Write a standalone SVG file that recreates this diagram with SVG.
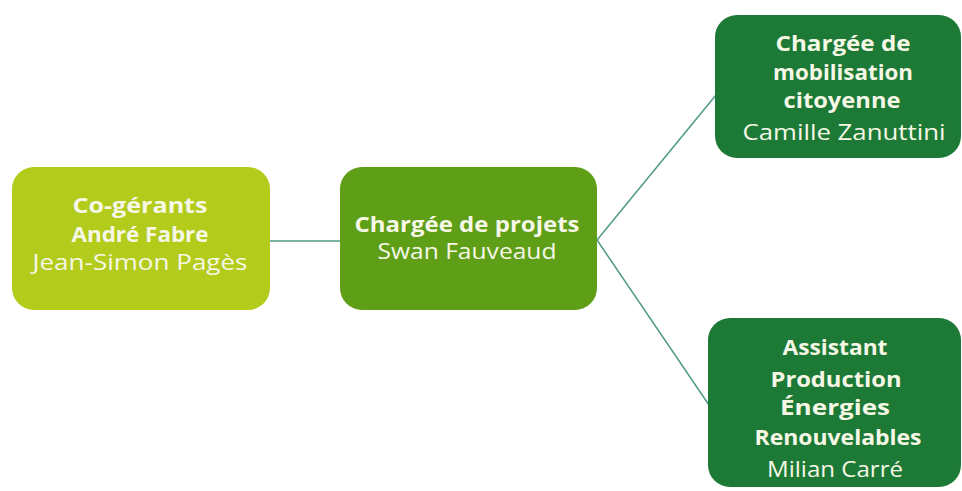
<svg xmlns="http://www.w3.org/2000/svg" width="962" height="491" viewBox="0 0 962 491">
<style>
.t{font-family:"Open Sans","Liberation Sans",sans-serif;font-size:21px;fill:#f6f7e6;text-anchor:middle}
.b{font-weight:bold}
.c{stroke:#4f9a86;stroke-width:1.5;fill:none}
</style>
<rect width="962" height="491" fill="#ffffff"/>
<g id="connectors">
<line class="c" x1="270" y1="241" x2="340" y2="241"/>
<line class="c" x1="597" y1="240" x2="716" y2="95"/>
<line class="c" x1="597" y1="240" x2="709" y2="405"/>
</g>
<g id="n1">
<rect x="12" y="167" width="258" height="143" rx="22" fill="#b3cb1b"/>
<text class="t b" x="140" y="213" textLength="135" lengthAdjust="spacingAndGlyphs">Co-gérants</text>
<text class="t b" x="140" y="242" textLength="137" lengthAdjust="spacingAndGlyphs">André Fabre</text>
<text class="t" x="140" y="270" textLength="215" lengthAdjust="spacingAndGlyphs">Jean-Simon Pagès</text>
</g>
<g id="n2">
<rect x="340" y="167" width="257" height="143" rx="22" fill="#5f9e17"/>
<text class="t b" x="467" y="232" textLength="225" lengthAdjust="spacingAndGlyphs">Chargée de projets</text>
<text class="t" x="467" y="259" textLength="179" lengthAdjust="spacingAndGlyphs">Swan Fauveaud</text>
</g>
<g id="n3">
<rect x="715" y="15" width="246" height="143" rx="22" fill="#1d7a36"/>
<text class="t b" x="843" y="51" textLength="135" lengthAdjust="spacingAndGlyphs">Chargée de</text>
<text class="t b" x="843" y="80" textLength="140" lengthAdjust="spacingAndGlyphs">mobilisation</text>
<text class="t b" x="842" y="108" textLength="117" lengthAdjust="spacingAndGlyphs">citoyenne</text>
<text class="t" x="844" y="140" textLength="203" lengthAdjust="spacingAndGlyphs">Camille Zanuttini</text>
</g>
<g id="n4">
<rect x="708" y="318" width="253" height="169" rx="22" fill="#1d7a36"/>
<text class="t b" x="835" y="355" textLength="105" lengthAdjust="spacingAndGlyphs">Assistant</text>
<text class="t b" x="836" y="387" textLength="131" lengthAdjust="spacingAndGlyphs">Production</text>
<text class="t b" x="835" y="415" textLength="110" lengthAdjust="spacingAndGlyphs">Énergies</text>
<text class="t b" x="838" y="445" textLength="167" lengthAdjust="spacingAndGlyphs">Renouvelables</text>
<text class="t" x="835" y="477" textLength="136" lengthAdjust="spacingAndGlyphs">Milian Carré</text>
</g>
</svg>
